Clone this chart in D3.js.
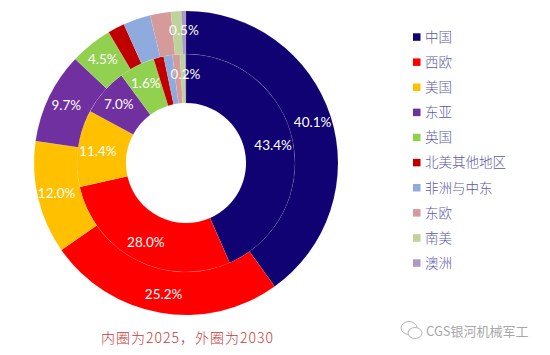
<!DOCTYPE html>
<html><head><meta charset="utf-8">
<script src="https://cdn.jsdelivr.net/npm/d3@7/dist/d3.min.js"></script>
<style>html,body{margin:0;padding:0;background:#fff}svg{display:block}</style>
</head><body><svg id="c" width="550" height="355"></svg>
<script>
const categories = ["中国","西欧","美国","东亚","英国","北美其他地区","非洲与中东","东欧","南美","澳洲"];
const colors = ["#110273","#ff0000","#ffc000","#7030a0","#92d050","#c00000","#8faadc","#d59a9a","#bdd39a","#a99bc4"];
const inner2025 = [43.4,28.0,11.4,7.0,5.3,1.5,1.3,1.1,0.7,0.2];
const outer2030 = [40.1,25.2,12.0,9.7,4.5,1.8,2.9,2.2,1.1,0.5];
const innerLabels = ["43.4%","28.0%","11.4%","7.0%","1.6%",null,null,null,null,"0.2%"];
const outerLabels = ["40.1%","25.2%","12.0%","9.7%","4.5%",null,null,null,null,"0.5%"];
const caption = ["内圈为2025，外圈为2030"];
const watermark = "CGS银河机械军工";

const svg = d3.select("#c");
const cx=186, cy=163;
const rings=[
  {vals:inner2025,labs:innerLabels,r0:60,r1:109,rl:89},
  {vals:outer2030,labs:outerLabels,r0:109,r1:152,rl:133}
];
const pie=d3.pie().sort(null).value(d=>d);
const g=svg.append("g").attr("transform",`translate(${cx},${cy})`);
rings.forEach(R=>{
  const arc=d3.arc().innerRadius(R.r0).outerRadius(R.r1);
  const labelArc=d3.arc().innerRadius(R.rl).outerRadius(R.rl);
  const a=pie(R.vals);
  g.append("g").selectAll("path").data(a).join("path")
    .attr("d",arc).attr("fill",(d,i)=>colors[i])
    .attr("stroke","#fff").attr("stroke-opacity",0.15).attr("stroke-width",0.5);
  const lab=g.append("g");
  a.forEach((d,i)=>{
    if(!R.labs[i])return;
    let p=labelArc.centroid(d);
    lab.append("text").attr("x",p[0]).attr("y",p[1]).attr("dy","0.35em")
      .attr("text-anchor","middle").attr("fill","#fff")
      .style("font-family","Lato,'Open Sans',sans-serif").style("font-size","13.5px")
      .text(R.labs[i]);
  });
});

const y=d3.scalePoint().domain(categories).range([37,263]);
const leg=svg.append("g").selectAll("g").data(categories).join("g")
  .attr("transform",d=>`translate(413,${y(d)})`);
leg.append("rect").attr("x",0).attr("y",-3.7).attr("width",7.5).attr("height",7.5).attr("fill",(d,i)=>colors[i]);
leg.append("text").attr("x",12).attr("y",0).attr("dy","0.36em").attr("fill","#5a5aa8")
  .style("font-family","'Noto Sans CJK SC',sans-serif").style("font-weight",300).style("font-size","13.5px").text(d=>d);

svg.append("text").attr("x",101).attr("y",343).attr("fill","#c83a3a").style("letter-spacing","1px")
  .style("font-family","'Noto Sans CJK SC',sans-serif").style("font-weight",300).style("font-size","14px").text(caption[0]);

const wm=svg.append("g").attr("transform","translate(400,331)").attr("fill","#fff").attr("stroke","#b5b5b5").attr("stroke-width",1);
wm.append("ellipse").attr("cx",9).attr("cy",-3).attr("rx",8).attr("ry",6.5);
wm.append("ellipse").attr("cx",15).attr("cy",2).attr("rx",7).attr("ry",5.5);
svg.append("text").attr("x",426).attr("y",336).attr("fill","#a8a8a8")
  .style("font-family","'Noto Sans CJK SC',sans-serif").style("font-size","13px").text(watermark);
</script></body></html>
